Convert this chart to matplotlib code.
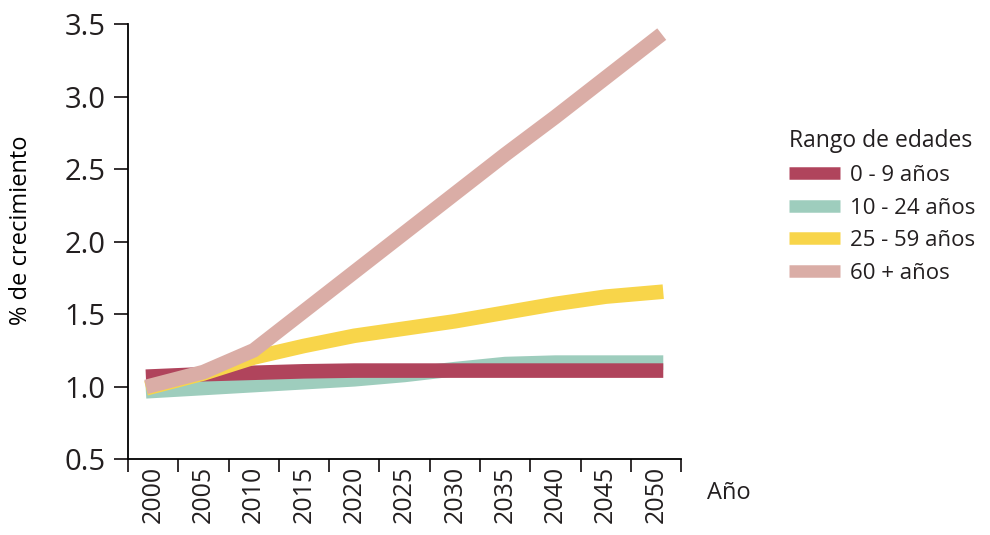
import matplotlib
matplotlib.use("Agg")
import matplotlib.pyplot as plt
from matplotlib.lines import Line2D

plt.rcParams['font.family'] = ['Open Sans', 'DejaVu Sans']
plt.rcParams['text.color'] = '#231f20'
plt.rcParams['xtick.color'] = '#231f20'
plt.rcParams['ytick.color'] = '#231f20'

years = [2000, 2005, 2010, 2015, 2020, 2025, 2030, 2035, 2040, 2045, 2050]
age_0_9 = [1.07, 1.085, 1.095, 1.105, 1.11, 1.11, 1.11, 1.11, 1.11, 1.11, 1.11]
age_10_24 = [0.97, 0.99, 1.01, 1.03, 1.05, 1.08, 1.12, 1.155, 1.165, 1.165, 1.165]
age_25_59 = [1.0, 1.09, 1.2, 1.28, 1.35, 1.40, 1.45, 1.51, 1.57, 1.62, 1.65]
age_60 = [1.01, 1.1, 1.25, 1.52, 1.79, 2.06, 2.33, 2.60, 2.86, 3.13, 3.40]

labels = ["0 - 9 años", "10 - 24 años", "25 - 59 años", "60 + años"]
colors = ["#B0445C", "#9ECDBD", "#F8D54A", "#DAADA6"]
series = [age_0_9, age_10_24, age_25_59, age_60]
zorders = [3, 2, 4, 5]

fig = plt.figure(figsize=(9.9, 5.35), dpi=100)
ax = fig.add_axes([0.1293, 0.142, 0.5587, 0.813])

for vals, c, z in zip(series, colors, zorders):
    ax.plot(years, vals, color=c, lw=10.5, solid_capstyle='projecting',
            solid_joinstyle='miter', zorder=z)

ax.set_xlim(1997.5, 2052.5)
ax.set_ylim(0.5, 3.5)

# tick marks between the years, labels centred on them
ax.set_xticks([y - 2.5 for y in years] + [2052.5])
ax.set_xticklabels([])
ax.set_xticks(years, minor=True)
ax.set_xticklabels([str(y) for y in years], minor=True, rotation=90, fontsize=18)
ax.tick_params(axis='x', which='major', direction='out', length=9, width=1.3)
ax.tick_params(axis='x', which='minor', length=0, pad=5)

ax.set_yticks([0.5, 1.0, 1.5, 2.0, 2.5, 3.0, 3.5])
ax.set_yticklabels(["0.5", "1.0", "1.5", "2.0", "2.5", "3.0", "3.5"], fontsize=21)
ax.tick_params(axis='y', direction='out', length=10, width=1.3, pad=6)

for s in ['top', 'right']:
    ax.spines[s].set_visible(False)
for s in ['left', 'bottom']:
    ax.spines[s].set_linewidth(1.3)

ax.set_ylabel("% de crecimiento", fontsize=17)
ax.yaxis.set_label_coords(-0.172, 0.525)
fig.text(0.714, 0.078, "Año", fontsize=17, ha='left', va='center')

handles = [Line2D([], [], color=c, lw=9, solid_capstyle='butt') for c in colors]
leg = fig.legend(handles, labels, loc='upper left', bbox_to_anchor=(0.797, 0.758),
                 frameon=False, fontsize=16, title="Rango de edades", title_fontsize=16.5,
                 handlelength=2.3, handletextpad=0.45, labelspacing=0.52,
                 borderaxespad=0, borderpad=0)
leg._legend_box.align = "left"

fig.savefig("out.png", dpi=100)
